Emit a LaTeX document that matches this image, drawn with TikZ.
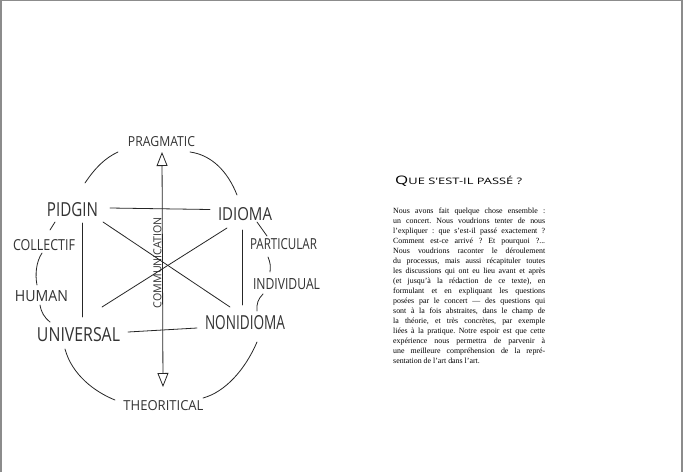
\documentclass[tikz,border=0pt]{standalone}
\usepackage{fontspec}
\setmainfont{Liberation Serif}
\newfontfamily\handfont{Open Sans}
\newfontfamily\titlefont{Open Sans}
\usetikzlibrary{arrows.meta}
\newcommand{\hwtext}[3]{\resizebox{#1pt}{#2pt}{\handfont #3}}
\begin{document}
\begin{tikzpicture}[x=1pt,y=-1pt,
  pen/.style={line width=0.8pt, black!85, line cap=round},
  lbl/.style={inner sep=0pt, text=black!80},
  bothtips/.style={{Triangle[open,length=14pt,width=11pt]}-{Triangle[open,length=14pt,width=11pt]}}]
\useasboundingbox (0,0) rectangle (683,472);
\fill[white] (0,0) rectangle (683,472);
\draw[gray!90, line width=2pt] (1,472) -- (1,0);
\draw[gray!90, line width=1pt] (0,0.5) -- (683,0.5);
\draw[gray!90, line width=2pt] (682,0) -- (682,472);

% labels
\node[lbl] (prag) at (161.5,142) {\hwtext{67}{10}{PRAGMATIC}};
\node[lbl] (theo) at (163.5,406) {\hwtext{80}{10}{THEORITICAL}};
\node[lbl] (pidgin) at (72.5,209.5) {\hwtext{51}{14}{PIDGIN}};
\node[lbl] (idioma) at (245,214) {\hwtext{54}{13}{IDIOMA}};
\node[lbl] (univ) at (78.5,335) {\hwtext{83}{14}{UNIVERSAL}};
\node[lbl] (nonid) at (245,322.5) {\hwtext{80}{14}{NONIDIOMA}};
\node[lbl] (coll) at (44,245) {\hwtext{62}{11}{COLLECTIF}};
\node[lbl] (human) at (41.5,296.5) {\hwtext{53}{11}{HUMAN}};
\node[lbl] (part) at (283.5,244.5) {\hwtext{67}{11}{PARTICULAR}};
\node[lbl] (indiv) at (286.5,284) {\hwtext{67}{11}{INDIVIDUAL}};
\node[lbl, rotate=90] (comm) at (157.5,262.5) {\hwtext{91}{8}{COMMUNICATION}};

% coordinates
\coordinate (atop) at (162,152);
\coordinate (abot) at (163,387);
\coordinate (h1a) at (110,208);   \coordinate (h1b) at (210,209.5);
\coordinate (h2a) at (128,332);   \coordinate (h2b) at (197,328);
\coordinate (v1a) at (82,223);    \coordinate (v1b) at (82,317);
\coordinate (v2a) at (242,230);   \coordinate (v2b) at (242,305);
\coordinate (d1a) at (103,222);   \coordinate (d1b) at (230,307);
\coordinate (d2a) at (102,307);   \coordinate (d2b) at (227,228);
\coordinate (ip1) at (257,222);   \coordinate (ip2) at (267,236);
\coordinate (pi1) at (268,257);   \coordinate (pi2) at (270,272);
\coordinate (in1) at (263,294);   \coordinate (in2) at (257,311);
\coordinate (nt1) at (257,342);   \coordinate (nt2) at (203,398);
\coordinate (ut1) at (65,349);    \coordinate (ut2) at (115,400);
\coordinate (pc1) at (55,222);    \coordinate (pc2) at (50,230);
\coordinate (ch1) at (42,253);    \coordinate (ch2) at (37,285);
\coordinate (hu1) at (40,305);    \coordinate (hu2) at (50,322);
\coordinate (tl1) at (85,183);    \coordinate (tl2) at (118,152);
\coordinate (tr1) at (190,152);   \coordinate (tr2) at (237,195);

% connectors
\draw[pen, bothtips] (abot) -- (atop);
\draw[pen] (h1a) -- (h1b);
\draw[pen] (h2a) -- (h2b);
\draw[pen] (v1a) -- (v1b);
\draw[pen] (v2a) -- (v2b);
\draw[pen] (d1a) -- (d1b);
\draw[pen] (d2a) -- (d2b);
\draw[pen] (ip1) -- (ip2);
\draw[pen] (pi1) to[bend left=15] (pi2);
\draw[pen] (in1) to[bend right=25] (in2);
\draw[pen] (nt1) .. controls (245,370) and (225,392) .. (nt2);
\draw[pen] (ut1) .. controls (72,375) and (95,392) .. (ut2);
\draw[pen] (pc1) -- (pc2);
\draw[pen] (ch1) .. controls (36,262) and (35,275) .. (ch2);
\draw[pen] (hu1) to[bend right=20] (hu2);
\draw[pen] (tl1) .. controls (95,168) and (105,158) .. (tl2);
\draw[pen] (tr1) .. controls (212,155) and (228,172) .. (tr2);

% right page text
\node[anchor=west, inner sep=0pt] (title) at (395,181)
  {\resizebox{127pt}{8.5pt}{\titlefont Q{\fontsize{7.6}{8}\selectfont UE S'EST-IL PASSÉ ?}}};
\node[anchor=north west, inner sep=0pt, text width=152pt, align=justify,
  font=\fontsize{7.9}{10}\selectfont\frenchspacing] (body) at (393,207.5)
  {Nous avons fait quelque chose ensemble :\linebreak
   un concert. Nous voudrions tenter de nous\linebreak
   l'expliquer : que s'est-il passé exactement ?\linebreak
   Comment est-ce arrivé ? Et pourquoi ?...\linebreak
   Nous voudrions raconter le déroulement\linebreak
   du processus, mais aussi récapituler toutes\linebreak
   les discussions qui ont eu lieu avant et après\linebreak
   (et jusqu'à la rédaction de ce texte), en\linebreak
   formulant et en expliquant les questions\linebreak
   posées par le concert — des questions qui\linebreak
   sont à la fois abstraites, dans le champ de\linebreak
   la théorie, et très concrètes, par exemple\linebreak
   liées à la pratique. Notre espoir est que cette\linebreak
   expérience nous permettra de parvenir à\linebreak
   une meilleure compréhension de la repré-\linebreak
   sentation de l'art dans l'art.};
\end{tikzpicture}
\end{document}
